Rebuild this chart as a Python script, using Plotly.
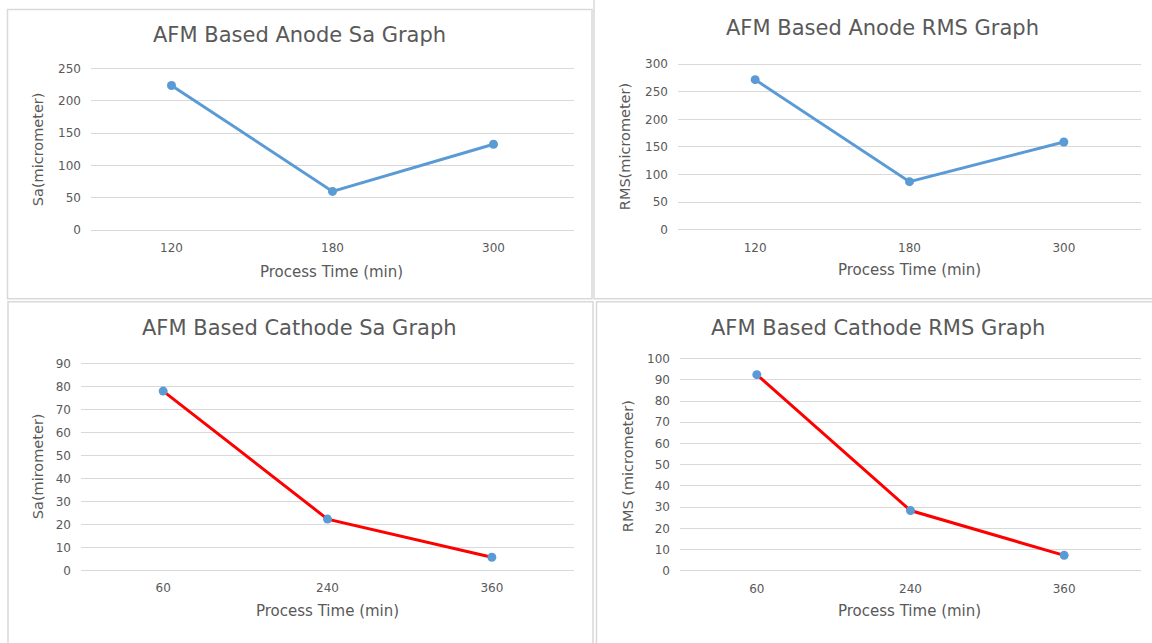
import plotly.graph_objects as go

# Process times (categories) and surface roughness values
anode_times = ["120", "180", "300"]
anode_sa = [224, 60, 133]
anode_rms = [272, 87, 159]

cathode_times = ["60", "240", "360"]
cathode_sa = [78, 22.3, 5.7]
cathode_rms = [92.4, 28.4, 7.3]

W, H = 1152, 643
BLUE = "#5b9bd5"
RED = "#ff0000"
GRID = "#d9d9d9"
TEXT = "#595959"
FONT = "DejaVu Sans"
EDGE = 3  # px of headroom so the gridlines at 0 and at the top stay visible


def px(x):
    return x / W


def py(y):
    return 1 - y / H


panels = [
    dict(title="AFM Based Anode Sa Graph", ytitle="Sa(micrometer)",
         x=anode_times, y=anode_sa, line=BLUE, ymax=250, dtick=50,
         dom_x=(91, 574), dom_y=(65.5, 229),
         title_pos=(299, 31), xt_pos=(331, 271), yt_pos=(38, 147)),
    dict(title="AFM Based Anode RMS Graph", ytitle="RMS(micrometer)",
         x=anode_times, y=anode_rms, line=BLUE, ymax=300, dtick=50,
         dom_x=(678, 1141), dom_y=(61, 228.5),
         title_pos=(882, 24), xt_pos=(909, 269), yt_pos=(625, 145)),
    dict(title="AFM Based Cathode Sa Graph", ytitle="Sa(mirometer)",
         x=cathode_times, y=cathode_sa, line=RED, ymax=90, dtick=10,
         dom_x=(81, 574), dom_y=(364, 573.5),
         title_pos=(299, 328), xt_pos=(327, 615), yt_pos=(38, 468)),
    dict(title="AFM Based Cathode RMS Graph", ytitle="RMS (micrometer)",
         x=cathode_times, y=cathode_rms, line=RED, ymax=100, dtick=10,
         dom_x=(680, 1141), dom_y=(359, 574),
         title_pos=(878, 328), xt_pos=(909, 615), yt_pos=(628, 468)),
]

fig = go.Figure()
annotations = []
layout_axes = {}

for i, p in enumerate(panels, start=1):
    xa = "x" if i == 1 else f"x{i}"
    ya = "y" if i == 1 else f"y{i}"
    fig.add_trace(go.Scatter(
        x=p["x"], y=p["y"], xaxis=xa, yaxis=ya, mode="lines+markers",
        line=dict(color=p["line"], width=3),
        marker=dict(color=BLUE, size=9),
        showlegend=False, cliponaxis=False,
    ))
    xkey = "xaxis" if i == 1 else f"xaxis{i}"
    ykey = "yaxis" if i == 1 else f"yaxis{i}"
    top, bottom = p["dom_y"]
    pad = p["ymax"] * EDGE / (bottom - top)
    layout_axes[xkey] = dict(
        domain=[px(p["dom_x"][0]), px(p["dom_x"][1])],
        anchor=ya, type="category", range=[-0.5, 2.5],
        showgrid=False, zeroline=False, showline=False, ticks="",
        ticklabelstandoff=6,
        tickfont=dict(family=FONT, size=12, color=TEXT),
        fixedrange=True,
    )
    layout_axes[ykey] = dict(
        domain=[py(bottom + EDGE), py(top - EDGE)],
        anchor=xa, range=[-pad, p["ymax"] + pad], dtick=p["dtick"], tick0=0,
        showgrid=True, gridcolor=GRID, gridwidth=1,
        zeroline=False, showline=False, ticks="",
        ticklabelstandoff=9,
        tickfont=dict(family=FONT, size=12, color=TEXT),
        fixedrange=True,
    )
    annotations.append(dict(
        text=p["title"], x=px(p["title_pos"][0]), y=py(p["title_pos"][1]),
        xref="paper", yref="paper", showarrow=False,
        xanchor="center", yanchor="middle",
        font=dict(family=FONT, size=21, color=TEXT),
    ))
    annotations.append(dict(
        text="Process Time (min)", x=px(p["xt_pos"][0]), y=py(p["xt_pos"][1]),
        xref="paper", yref="paper", showarrow=False,
        xanchor="center", yanchor="middle",
        font=dict(family=FONT, size=15, color=TEXT),
    ))
    annotations.append(dict(
        text=p["ytitle"], x=px(p["yt_pos"][0]), y=py(p["yt_pos"][1]),
        xref="paper", yref="paper", showarrow=False, textangle=-90,
        xanchor="center", yanchor="middle",
        font=dict(family=FONT, size=14.5, color=TEXT),
    ))

# Frames around each chart panel
frames = [
    (7.5, 5.5, 592, 298.5),
    (594, -10, 1170, 298.5),
    (8, 301.5, 593, 670),
    (596.5, 301.5, 1170, 670),
]
shapes = [
    dict(type="rect", xref="paper", yref="paper",
         x0=px(x0), x1=px(x1), y0=py(y1), y1=py(y0),
         line=dict(color=GRID, width=1.5), fillcolor="rgba(0,0,0,0)",
         layer="below")
    for x0, y0, x1, y1 in frames
]

fig.update_layout(
    width=W, height=H,
    margin=dict(l=0, r=0, t=0, b=0),
    paper_bgcolor="white", plot_bgcolor="white",
    annotations=annotations, shapes=shapes,
    **layout_axes,
)

fig.write_html("out.html", config={"displayModeBar": False})
